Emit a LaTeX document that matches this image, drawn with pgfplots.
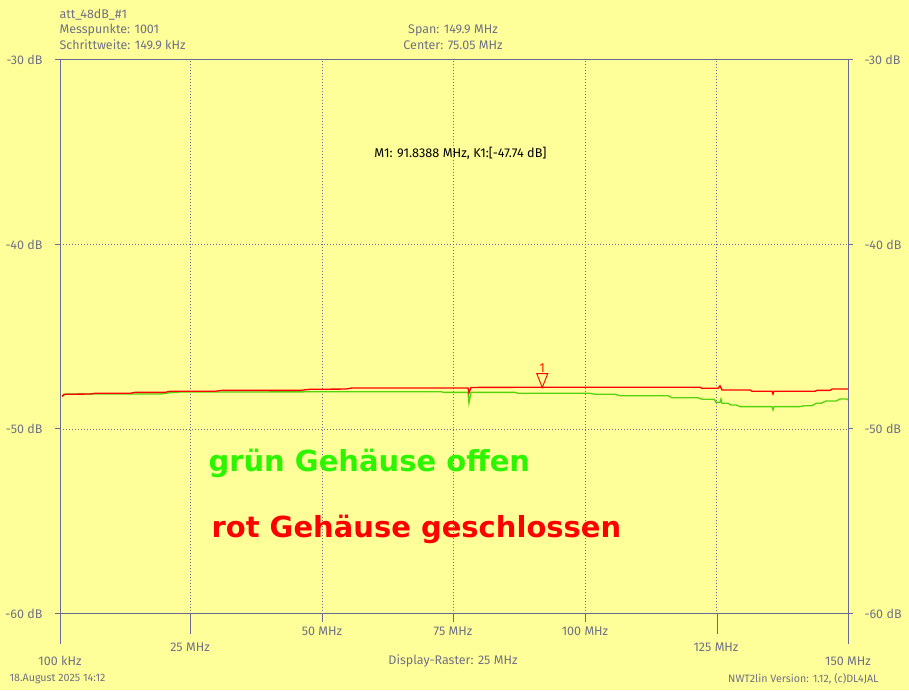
\documentclass[border=0pt]{standalone}
\usepackage{pgfplots}
\pgfplotsset{compat=1.18}
\usepackage{fontspec}
\setmainfont{Fira Sans}
\newfontfamily\boldfont{DejaVu Sans}
\definecolor{bg}{RGB}{255,255,153}
\definecolor{axc}{RGB}{105,105,150}
\definecolor{txc}{RGB}{112,112,135}
\definecolor{grn}{RGB}{85,210,15}
\definecolor{grntext}{RGB}{45,245,0}
\pgfdeclareplotmark{mtri}{%
  \pgfpathmoveto{\pgfpoint{0pt}{0pt}}%
  \pgfpathlineto{\pgfpoint{-5.5pt}{14pt}}%
  \pgfpathlineto{\pgfpoint{5.5pt}{14pt}}%
  \pgfpathclose\pgfusepathqstroke}
\begin{document}
\begin{tikzpicture}[x=1pt,y=1pt]
\fill[bg] (0,0) rectangle (909,690);
\begin{axis}[at={(60pt,76pt)}, anchor=south west, scale only axis,
  width=788pt, height=554pt,
  xmin=0.1, xmax=150, ymin=-60, ymax=-30,
  axis line style={axc, line width=1pt},
  xtick={25,50,75,100,125}, ytick={-40,-50},
  xticklabels={}, yticklabels={},
  major tick length=0pt,
  grid=major,
  major grid style={axc, line width=0.9pt, dash pattern=on 1pt off 2pt},
]
\addplot[grn, line width=1.3pt] coordinates {
(0.48,-48.22) (1.24,-48.09) (19.12,-48.09) (21.03,-48.02) (22.93,-47.98)
(72.39,-47.96) (73.34,-48.00) (77.71,-48.00) (77.90,-48.57) (78.28,-48.00)
(86.65,-48.00) (87.22,-48.05) (100.92,-48.05) (101.87,-48.10) (105.68,-48.10)
(106.63,-48.18) (115.76,-48.18) (116.52,-48.29) (121.47,-48.29) (122.23,-48.37)
(124.51,-48.37) (124.89,-48.54) (125.65,-48.54) (125.84,-48.36) (126.03,-48.59)
(127.17,-48.59) (127.74,-48.68) (128.69,-48.68) (129.46,-48.77) (135.54,-48.77)
(135.73,-48.95) (135.92,-48.77) (140.87,-48.77) (141.82,-48.72) (143.15,-48.72)
(143.91,-48.59) (144.86,-48.59) (145.81,-48.47) (147.72,-48.47) (148.48,-48.36)
(149.81,-48.36) (150.0,-48.41)
};
\addplot[red, line width=1.3pt] coordinates {
(0.48,-48.22) (0.86,-48.10) (5.81,-48.09) (6.76,-48.05) (13.42,-48.05)
(14.37,-48.00) (20.07,-48.00) (21.03,-47.94) (29.59,-47.94) (30.92,-47.89)
(45.75,-47.89) (47.66,-47.83) (54.50,-47.82) (55.65,-47.76) (77.71,-47.76)
(77.90,-48.03) (78.28,-47.73) (102.82,-47.72) (121.85,-47.72) (122.23,-47.78)
(125.27,-47.78) (125.65,-47.64) (126.03,-47.87) (131.36,-47.87) (131.74,-47.94)
(135.54,-47.94) (135.73,-48.09) (135.92,-47.94) (143.72,-47.94) (144.10,-47.89)
(146.58,-47.89) (146.96,-47.82) (150.0,-47.82)
};
\addplot[red, only marks, mark=mtri, mark options={line width=0.9pt},
  nodes near coords={1},
  every node near coord/.style={anchor=south, yshift=11pt, font=\fontsize{13}{13}\selectfont, text=red!75!orange}]
  coordinates {(91.8388,-47.74)};
\end{axis}
% axis extensions and ticks
\begin{scope}[axc, line width=1pt]
\draw (60,76) -- (60,46);
\draw (848,76) -- (848,46);
\draw (190.9,76) -- (190.9,56);
\draw (717.1,76) -- (717.1,56);
\draw (322.2,76) -- (322.2,68);
\draw (453.5,76) -- (453.5,68);
\draw (585.2,76) -- (585.2,68);
\foreach \y in {76,261,445,630} {\draw (55,\y) -- (60,\y); \draw (848,\y) -- (853,\y);}
\end{scope}
\begin{scope}[txc, font=\fontsize{12.5}{14}\selectfont]
\node[anchor=east] at (46,630) {-30 dB};
\node[anchor=east] at (46,445.5) {-40 dB};
\node[anchor=east] at (46,261) {-50 dB};
\node[anchor=east] at (46,76) {-60 dB};
\node[anchor=west] at (861,630) {-30 dB};
\node[anchor=west] at (861,445.5) {-40 dB};
\node[anchor=west] at (861,261) {-50 dB};
\node[anchor=west] at (861,76) {-60 dB};
\node at (60,29) {100 kHz};
\node at (190,43) {25 MHz};
\node at (322,59) {50 MHz};
\node at (453,59) {75 MHz};
\node at (585,59) {100 MHz};
\node at (716,43) {125 MHz};
\node at (848,29) {150 MHz};
\node at (453,29) {Display-Raster: 25 MHz};
\node[anchor=west] at (56,675) {att\_48dB\_\#1};
\node[anchor=west] at (56,660) {Messpunkte: 1001};
\node[anchor=west] at (56,645) {Schrittweite: 149.9 kHz};
\node at (453,660) {Span: 149.9 MHz};
\node at (453,645) {Center: 75.05 MHz};
\end{scope}
\begin{scope}[txc, font=\fontsize{10.7}{12}\selectfont]
\node[anchor=west] at (6,11) {18.August 2025 14:12};
\node[anchor=east] at (882,11) {NWT2lin Version: 1.12, (c)DL4JAL};
\end{scope}
\node[black, font=\fontsize{12.7}{14}\selectfont] at (460.5,537) {M1: 91.8388 MHz, K1:[-47.74 dB]};
\node[anchor=west, grntext, font=\boldfont\bfseries\fontsize{29}{31}\selectfont] at (205,227) {grün Gehäuse offen};
\node[anchor=west, red, font=\boldfont\bfseries\fontsize{29}{31}\selectfont] at (208,161) {rot Gehäuse geschlossen};
\end{tikzpicture}
\end{document}
